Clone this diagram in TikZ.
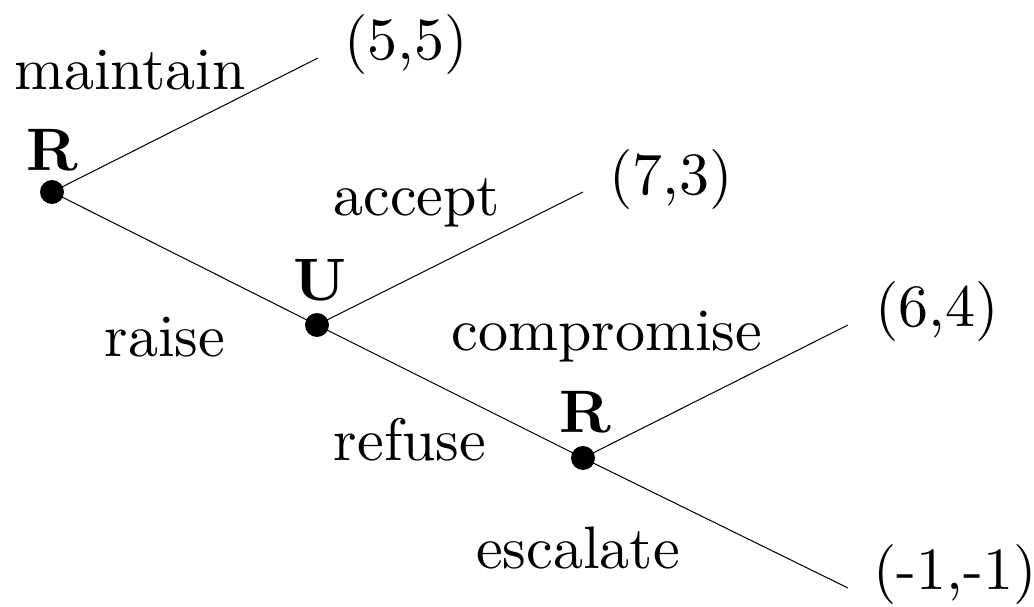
\documentclass[tikz,border=0pt]{standalone}
\begin{document}
\begin{tikzpicture}[x=0.1667pt,y=-0.1667pt,
  dot/.style={circle,fill=black,inner sep=0pt,minimum size=4pt},
  edge/.style={line width=0.17pt},
  lbl/.style={inner sep=0pt,anchor=center},
  pl/.style={font=\bfseries,inner sep=0pt,anchor=center}]
\useasboundingbox (0,0) rectangle (1034,607);
\node[dot] (r1) at (52,192) {};
\node[dot] (u) at (317,325) {};
\node[dot] (r2) at (583,458) {};
\coordinate (l1) at (318,58);
\coordinate (l2) at (583,192);
\coordinate (l3) at (848,325);
\coordinate (l4) at (848,588);
\draw[edge] (r1.center) -- (l1);
\draw[edge] (r1.center) -- (u.center);
\draw[edge] (u.center) -- (l2);
\draw[edge] (u.center) -- (r2.center);
\draw[edge] (r2.center) -- (l3);
\draw[edge] (r2.center) -- (l4);
\node[pl] (p1) at (52,150) {R};
\node[pl] (p2) at (320,280) {U};
\node[pl] (p3) at (585,412) {R};
\node[lbl] (t1) at (130,70) {maintain};
\node[lbl] (t2) at (417,203) {accept};
\node[lbl] (t3) at (165,337) {raise};
\node[lbl] (t4) at (607,337) {compromise};
\node[lbl] (t5) at (410,440) {refuse};
\node[lbl] (t6) at (578,548) {escalate};
\node[lbl] (o1) at (406,45) {(5,5)};
\node[lbl] (o2) at (671,180) {(7,3)};
\node[lbl] (o3) at (937,312) {(6,4)};
\node[lbl] (o4) at (955,575) {(-1,-1)};
\end{tikzpicture}
\end{document}
